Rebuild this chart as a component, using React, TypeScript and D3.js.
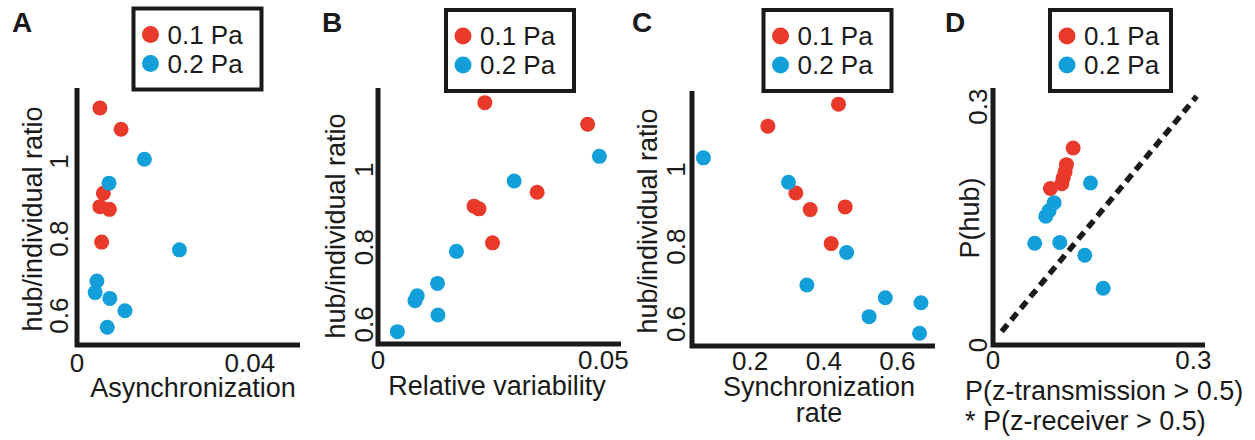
import * as d3 from 'd3';

const RED = '#e8392b';
const BLUE = '#139fd9';
const INK = '#1a1a1a';
const FONT = '"Liberation Sans", Arial, Helvetica, sans-serif';

// A: asynchronization vs hub/individual ratio
const asyncRed = [0.0053, 0.0102, 0.0061, 0.0053, 0.0075, 0.0057];
const asyncRedRatio = [1.139, 1.084, 0.918, 0.883, 0.876, 0.791];
const asyncBlue = [0.0156, 0.0074, 0.0237, 0.0046, 0.0042, 0.0076, 0.0111, 0.007];
const asyncBlueRatio = [1.006, 0.944, 0.771, 0.69, 0.66, 0.645, 0.613, 0.57];

// B: relative variability
const varRed = [0.0237, 0.0465, 0.0353, 0.0213, 0.0224, 0.0254];
const varRedRatio = [1.174, 1.118, 0.942, 0.906, 0.899, 0.811];
const varBlue = [0.0491, 0.0302, 0.0174, 0.0132, 0.0087, 0.0082, 0.0133, 0.0043];
const varBlueRatio = [1.035, 0.971, 0.789, 0.706, 0.674, 0.661, 0.624, 0.581];

// C: synchronization rate
const syncRed = [0.44, 0.248, 0.324, 0.363, 0.458, 0.42];
const syncRedRatio = [1.169, 1.112, 0.939, 0.896, 0.903, 0.808];
const syncBlue = [0.073, 0.304, 0.462, 0.354, 0.567, 0.664, 0.523, 0.66];
const syncBlueRatio = [1.03, 0.967, 0.785, 0.701, 0.668, 0.655, 0.619, 0.576];

// D: P(z-transmission)*P(z-receiver) vs P(hub)
const zRed = [0.12, 0.11, 0.108, 0.105, 0.103, 0.086];
const hubRed = [0.248, 0.227, 0.218, 0.21, 0.203, 0.197];
const zBlue = [0.146, 0.0915, 0.084, 0.079, 0.0625, 0.1, 0.1375, 0.165];
const hubBlue = [0.204, 0.179, 0.169, 0.162, 0.128, 0.129, 0.113, 0.0714];
const diagonal: [number, number][] = [[0.013, 0.017], [0.305, 0.313]];

const legendItems = [
  { label: '0.1 Pa', color: RED },
  { label: '0.2 Pa', color: BLUE },
];

const ratioTicks = [0.6, 0.8, 1];

const zip = (xs: number[], ys: number[]) => xs.map((x, i) => [x, ys[i]] as [number, number]);

type Panel = {
  letter: string;
  letterX: number;
  x: [number, number];
  y: [number, number];
  left: number; right: number; top: number; bottom: number;
  xTicks: number[]; yTicks: number[];
  xTickY: number; yTickX: number;
  xLabel: string[]; xLabelX: number; xLabelY: number; xLabelAnchor: string; xLabelGap: number;
  yLabel: string; yLabelX: number; yLabelY: number;
  legendX: number; legendY: number; legendW: number;
  red: [number, number][]; blue: [number, number][];
  diag?: [number, number][];
};

const panels: Panel[] = [
  {
    letter: 'A', letterX: 12,
    x: [0, 0.0516], y: [0.524, 1.191],
    left: 77, right: 300, top: 88, bottom: 345,
    xTicks: [0, 0.04], yTicks: ratioTicks, xTickY: 372, yTickX: 68,
    xLabel: ['Asynchronization'], xLabelX: 193, xLabelY: 397, xLabelAnchor: 'middle', xLabelGap: 0,
    yLabel: 'hub/individual ratio', yLabelX: 42, yLabelY: 219,
    legendX: 133.5, legendY: 8.5, legendW: 128,
    red: zip(asyncRed, asyncRedRatio), blue: zip(asyncBlue, asyncBlueRatio),
  },
  {
    letter: 'B', letterX: 322,
    x: [0, 0.0539], y: [0.549, 1.212],
    left: 378, right: 621, top: 88, bottom: 344,
    xTicks: [0, 0.05], yTicks: ratioTicks, xTickY: 369, yTickX: 373,
    xLabel: ['Relative variability'], xLabelX: 497, xLabelY: 395, xLabelAnchor: 'middle', xLabelGap: 0,
    yLabel: 'hub/individual ratio', yLabelX: 345, yLabelY: 226,
    legendX: 446, legendY: 10, legendW: 128,
    red: zip(varRed, varRedRatio), blue: zip(varBlue, varBlueRatio),
  },
  {
    letter: 'C', letterX: 632,
    x: [0.042, 0.702], y: [0.543, 1.203],
    left: 692, right: 935, top: 91, bottom: 346,
    xTicks: [0.2, 0.4, 0.6], yTicks: ratioTicks, xTickY: 370, yTickX: 685,
    xLabel: ['Synchronization', 'rate'], xLabelX: 819, xLabelY: 396, xLabelAnchor: 'middle', xLabelGap: 26,
    yLabel: 'hub/individual ratio', yLabelX: 657, yLabelY: 221,
    legendX: 763.5, legendY: 10, legendW: 128,
    red: zip(syncRed, syncRedRatio), blue: zip(syncBlue, syncBlueRatio),
  },
  {
    letter: 'D', letterX: 945,
    x: [0, 0.3175], y: [0, 0.3235],
    left: 993, right: 1205, top: 88, bottom: 345,
    xTicks: [0, 0.3], yTicks: [0, 0.3], xTickY: 369, yTickX: 987,
    xLabel: ['P(z-transmission > 0.5)', '* P(z-receiver > 0.5)'], xLabelX: 965, xLabelY: 400, xLabelAnchor: 'start', xLabelGap: 30,
    yLabel: 'P(hub)', yLabelX: 979, yLabelY: 218,
    legendX: 1050, legendY: 10, legendW: 121,
    red: zip(zRed, hubRed), blue: zip(zBlue, hubBlue),
    diag: diagonal,
  },
];

const fmt = (v: number) => (v === 0 ? '0' : String(v));

const PanelView = ({ p }: { p: Panel }) => {
  const x = d3.scaleLinear().domain(p.x).range([p.left, p.right]);
  const y = d3.scaleLinear().domain(p.y).range([p.bottom, p.top]);
  const line = d3.line<[number, number]>().x(d => x(d[0])).y(d => y(d[1]));

  return (
    <g fontFamily={FONT} fill={INK}>
      <text x={p.letterX} y={32} fontSize={28} fontWeight="bold">{p.letter}</text>

      {/* legend */}
      <rect x={p.legendX} y={p.legendY} width={p.legendW} height={81}
        fill="#fff" stroke={INK} strokeWidth={4} />
      {legendItems.map((item, i) => (
        <g key={item.label}>
          <circle cx={p.legendX + 17} cy={p.legendY + 26 + i * 29} r={8.5} fill={item.color} />
          <text x={p.legendX + 34} y={p.legendY + 35 + i * 29} fontSize={26}>{item.label}</text>
        </g>
      ))}

      {p.diag && (
        <path d={line(p.diag) || ''} fill="none" stroke={INK} strokeWidth={5.5} strokeDasharray="9 6" />
      )}

      {p.red.map((d, i) => (
        <circle key={'r' + i} cx={x(d[0])} cy={y(d[1])} r={7.5} fill={RED} />
      ))}
      {p.blue.map((d, i) => (
        <circle key={'b' + i} cx={x(d[0])} cy={y(d[1])} r={7.5} fill={BLUE} />
      ))}

      {/* axes */}
      <path d={`M${p.left},${p.top}V${p.bottom}H${p.right}`} fill="none"
        stroke={INK} strokeWidth={5} strokeLinejoin="miter" />

      {p.xTicks.map(t => (
        <text key={'xt' + t} x={x(t)} y={p.xTickY} fontSize={26} textAnchor="middle">{fmt(t)}</text>
      ))}
      {p.yTicks.map(t => (
        <text key={'yt' + t} transform={`translate(${p.yTickX},${y(t)}) rotate(-90)`}
          fontSize={26} textAnchor="middle">{fmt(t)}</text>
      ))}

      {p.xLabel.map((s, i) => (
        <text key={s} x={p.xLabelX} y={p.xLabelY + i * p.xLabelGap} fontSize={27}
          textAnchor={p.xLabelAnchor}>{s}</text>
      ))}
      <text transform={`translate(${p.yLabelX},${p.yLabelY}) rotate(-90)`} fontSize={27}
        textAnchor="middle">{p.yLabel}</text>
    </g>
  );
};

export default function App() {
  return (
    <svg width={1255} height={440} style={{ position: 'absolute', left: 0, top: 0, background: '#fff' }}>
      <rect width={1255} height={440} fill="#fff" />
      {panels.map(p => <PanelView key={p.letter} p={p} />)}
    </svg>
  );
}
